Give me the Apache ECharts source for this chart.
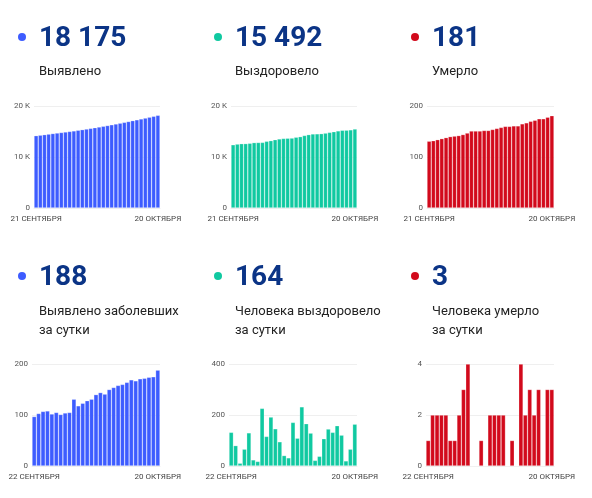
<!DOCTYPE html>
<html><head><meta charset="utf-8">
<script src="https://cdn.jsdelivr.net/npm/echarts@6/dist/echarts.min.js"></script>
<style>html,body{margin:0;padding:0;background:#fff}#c{width:592px;height:498px}</style>
</head><body><div id="c"></div>
<script>
// Top row: 21 Sep – 20 Oct (30 days)
const daysTop = ['21 СЕНТЯБРЯ','22','23','24','25','26','27','28','29','30','1','2','3','4','5','6','7','8','9','10','11','12','13','14','15','16','17','18','19','20 ОКТЯБРЯ'];
// Bottom row: 22 Sep – 20 Oct (29 days)
const daysBottom = ['22 СЕНТЯБРЯ','23','24','25','26','27','28','29','30','1','2','3','4','5','6','7','8','9','10','11','12','13','14','15','16','17','18','19','20 ОКТЯБРЯ'];

const casesTotal = [14185,14282,14385,14492,14600,14702,14807,14908,15012,15117,15248,15366,15489,15617,15748,15888,16032,16173,16323,16477,16635,16795,16959,17128,17295,17466,17638,17812,17987,18175];
const recoveredTotal = [12403,12535,12615,12626,12692,12822,12846,12864,13090,13206,13398,13544,13639,13680,13712,13883,13992,14224,14390,14519,14541,14579,14686,14831,14963,15121,15242,15262,15328,15492];
const deathsTotal = [131,132,134,136,138,140,141,142,144,147,151,151,151,152,152,154,156,158,160,160,161,161,165,167,170,172,175,175,178,181];

const casesDaily = [97,103,107,108,102,105,101,104,105,131,118,123,128,131,140,144,141,150,154,158,160,164,169,167,171,172,174,175,188];
const recoveredDaily = [132,80,11,66,130,24,18,226,116,192,146,95,41,32,171,109,232,166,129,22,38,107,145,132,158,121,20,66,164];
const deathsDaily = [1,2,2,2,2,1,1,2,3,4,0,0,1,0,2,2,2,2,0,1,0,4,2,3,2,3,0,3,3];

const headNumbers = ['18 175','15 492','181','188','164','3'];
const headLabels = [['Выявлено'],['Выздоровело'],['Умерло'],['Выявлено заболевших','за сутки'],['Человека выздоровело','за сутки'],['Человека умерло','за сутки']];

const BLUE='#3d5cff', GREEN='#10c9a1', RED='#d20a1c', NAVY='#0b3486';
const colors=[BLUE,GREEN,RED,BLUE,GREEN,RED];
const FONT='Roboto, "Noto Sans", sans-serif';

const panels = [
  {left:34, top:106, width:126, cats:daysTop, data:casesTotal, max:20000, interval:10000, fmt:v=>v===0?'0':(v/1000)+' K'},
  {left:231, top:106, width:126, cats:daysTop, data:recoveredTotal, max:20000, interval:10000, fmt:v=>v===0?'0':(v/1000)+' K'},
  {left:427, top:106, width:127, cats:daysTop, data:deathsTotal, max:200, interval:100, fmt:v=>String(v)},
  {left:32, top:364, width:128, cats:daysBottom, data:casesDaily, max:200, interval:100, fmt:v=>String(v)},
  {left:229, top:364, width:128, cats:daysBottom, data:recoveredDaily, max:400, interval:200, fmt:v=>String(v)},
  {left:426, top:364, width:128, cats:daysBottom, data:deathsDaily, max:4, interval:2, fmt:v=>String(v)}
];

const grid=[], xAxis=[], yAxis=[], series=[], graphic=[];
panels.forEach((p,i)=>{
  grid.push({left:p.left, top:p.top, width:p.width, height:102, containLabel:false});
  const n=p.cats.length;
  xAxis.push({type:'category', gridIndex:i, data:p.cats,
    axisLine:{show:true, lineStyle:{color:'#eeeeee'}}, axisTick:{show:false},
    axisLabel:{interval:(idx)=>idx===0||idx===n-1, fontSize:8, color:'#444', fontFamily:FONT, margin:7, hideOverlap:false}});
  yAxis.push({type:'value', gridIndex:i, min:0, max:p.max, interval:p.interval,
    axisLine:{show:false}, axisTick:{show:false},
    splitLine:{lineStyle:{color:'#efefef'}},
    axisLabel:{fontSize:8, color:'#555', fontFamily:FONT, margin:4, formatter:p.fmt}});
  series.push({type:'bar', xAxisIndex:i, yAxisIndex:i, data:p.data, barCategoryGap:'0%',
    itemStyle:{color:colors[i], borderColor:'rgba(255,255,255,0.4)', borderWidth:0.6},
    silent:true, animation:false});
  const col=i%3, row=Math.floor(i/3);
  const x0=[22,218,415][col];
  const cy=[37,276][row];
  graphic.push({type:'circle', shape:{cx:x0, cy:cy, r:4}, style:{fill:colors[i]}});
  graphic.push({type:'text', left:x0+17, top:cy-12, style:{text:headNumbers[i], font:'bold 28px '+FONT, fill:NAVY}});
  headLabels[i].forEach((t,k)=>{
    graphic.push({type:'text', left:x0+17, top:(row===0?65:305)+k*19, style:{text:t, font:'13px '+FONT, fill:'#222'}});
  });
});

const chart=echarts.init(document.getElementById('c'),null,{renderer:'canvas'});
chart.setOption({animation:false, grid, xAxis, yAxis, series, graphic});
</script></body></html>
